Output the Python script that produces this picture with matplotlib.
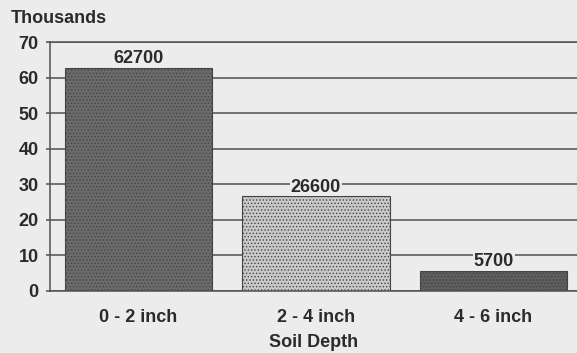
import matplotlib.pyplot as plt
import numpy as np

categories = ['0 - 2 inch', '2 - 4 inch', '4 - 6 inch']
values = [62700, 26600, 5700]
bar_colors = ['#6b6b6b', '#c9c9c9', '#5e5e5e']
yticks = [0, 10, 20, 30, 40, 50, 60, 70]

bg = '#ececec'
txt = '#2a2a2a'
fs = 13
plt.rcParams['font.family'] = ['Liberation Sans', 'DejaVu Sans']
plt.rcParams['font.weight'] = 'bold'
plt.rcParams['hatch.linewidth'] = 0.6

fig = plt.figure(figsize=(5.77, 3.53), dpi=100, facecolor=bg)
ax = fig.add_axes([0.086, 0.176, 0.914, 0.705])
ax.set_facecolor(bg)

x = np.arange(len(categories))
vals = np.array(values) / 1000.0
ax.set_axisbelow(True)
ax.yaxis.grid(True, color='#505050', linewidth=1.1)
bars = ax.bar(x, vals, width=0.83, color=bar_colors, edgecolor='#444444',
              linewidth=0.8, hatch='.....')

for xi, v, raw in zip(x, vals, values):
    ax.text(xi, v + 0.2, f'{raw}', ha='center', va='bottom', fontsize=fs,
            color=txt,
            bbox=dict(boxstyle='square,pad=0.05', facecolor=bg, edgecolor='none'))

ax.set_xlim(-0.5, 2.47)
ax.set_ylim(0, 70)
ax.set_yticks(yticks)
ax.set_xticks(x)
ax.set_xticklabels(categories)
ax.tick_params(axis='y', length=3, width=1.1, color='#505050', labelsize=fs,
               labelcolor=txt, pad=5)
ax.tick_params(axis='x', length=0, labelsize=fs, labelcolor=txt, pad=13)
ax.spines['right'].set_visible(False)
for s in ['left', 'bottom', 'top']:
    ax.spines[s].set_color('#505050')
    ax.spines[s].set_linewidth(1.1)

ax.set_xlabel('Soil Depth', fontsize=fs, fontweight='bold', color=txt, labelpad=6)
fig.text(0.019, 0.948, 'Thousands', fontsize=fs, color=txt, va='center')

fig.savefig('out.png', dpi=100, facecolor=bg)
